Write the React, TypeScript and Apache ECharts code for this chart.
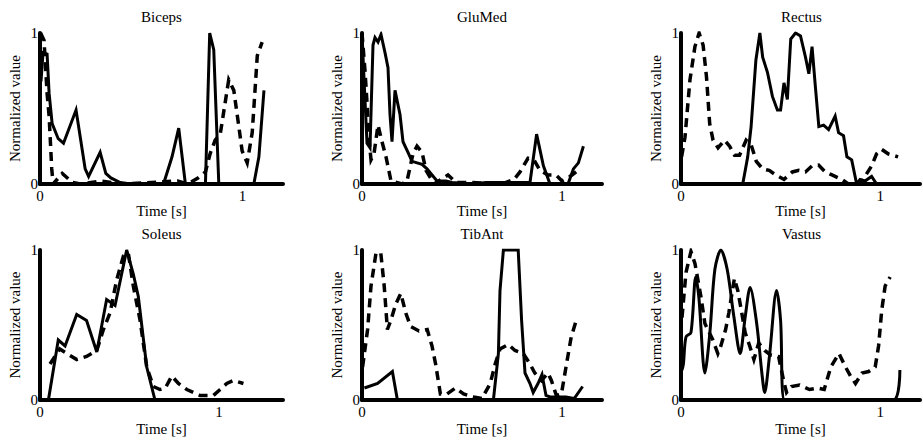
import React, { useEffect, useRef } from "react";
import * as echarts from "echarts";

// ---- data: [time (s), normalized value] ----
const panelTitles = ["Biceps", "GluMed", "Rectus", "Soleus", "TibAnt", "Vastus"];
const xTickLabels = ["0", "1"];
const yTickLabels = ["0", "1"];
const xMaxes = [1.2, 1.2, 1.2, 1.357, 1.2, 1.2];

const bicepsSolid = [[0.005,0.68],[0.015,0.87],[0.035,0.86],[0.045,0.6],[0.06,0.4],[0.09,0.3],[0.116,0.27],[0.178,0.49],[0.2,0.3],[0.223,0.1],[0.24,0.05],[0.297,0.21],[0.325,0.07],[0.35,0.04],[0.396,0.01],[0.45,0.0],[0.61,0.0],[0.652,0.18],[0.685,0.37],[0.718,0.0],[0.817,0.0],[0.838,1.0],[0.858,0.89],[0.883,0.0],[1.056,0.0],[1.081,0.18],[1.106,0.62]];
const bicepsDashed = [[0.003,1.0],[0.02,0.95],[0.035,0.6],[0.045,0.45],[0.058,0.1],[0.065,0.0],[0.11,0.07],[0.16,0.01],[0.2,0.0],[0.3,0.02],[0.4,0.0],[0.55,0.01],[0.68,0.02],[0.73,0.0],[0.78,0.04],[0.817,0.08],[0.84,0.2],[0.865,0.29],[0.89,0.33],[0.932,0.69],[0.957,0.62],[0.982,0.38],[0.998,0.22],[1.023,0.14],[1.048,0.34],[1.073,0.85],[1.097,0.94]];

const glumedSolid = [[0.0,1.0],[0.01,0.7],[0.025,0.27],[0.04,0.24],[0.055,0.92],[0.065,0.97],[0.08,0.94],[0.095,0.99],[0.115,0.87],[0.13,0.77],[0.14,0.46],[0.15,0.28],[0.165,0.62],[0.19,0.46],[0.205,0.28],[0.23,0.21],[0.25,0.15],[0.3,0.13],[0.325,0.1],[0.375,0.02],[0.42,0.02],[0.45,0.01],[0.55,0.0],[0.62,0.01],[0.84,0.01],[0.873,0.33],[0.907,0.12],[0.94,0.0],[1.03,0.0],[1.057,0.1],[1.082,0.14],[1.107,0.25]];
const glumedDashed = [[0.0,1.0],[0.015,0.75],[0.025,0.54],[0.035,0.3],[0.045,0.16],[0.06,0.2],[0.08,0.39],[0.1,0.28],[0.12,0.18],[0.145,0.02],[0.2,0.0],[0.225,0.02],[0.255,0.2],[0.275,0.25],[0.3,0.21],[0.32,0.09],[0.36,0.0],[0.43,0.06],[0.47,0.01],[0.55,0.01],[0.7,0.0],[0.76,0.03],[0.79,0.08],[0.83,0.17],[0.86,0.16],[0.89,0.09],[0.93,0.06],[0.97,0.06],[1.0,0.02],[1.04,0.05],[1.09,0.1]];

const rectusSolid = [[0.0,0.0],[0.31,0.0],[0.335,0.18],[0.352,0.38],[0.376,0.82],[0.396,1.0],[0.41,0.84],[0.434,0.74],[0.459,0.58],[0.484,0.49],[0.5,0.49],[0.517,0.67],[0.534,0.56],[0.551,0.96],[0.575,1.0],[0.6,0.98],[0.625,0.84],[0.642,0.73],[0.658,0.91],[0.675,0.64],[0.692,0.38],[0.716,0.39],[0.741,0.36],[0.774,0.45],[0.791,0.34],[0.816,0.32],[0.833,0.18],[0.857,0.16],[0.882,0.0],[0.899,0.03],[0.924,0.02],[0.957,0.05],[0.982,0.0]];
const rectusDashed = [[0.003,0.18],[0.02,0.31],[0.045,0.69],[0.07,0.91],[0.091,1.0],[0.111,0.92],[0.128,0.71],[0.144,0.4],[0.161,0.29],[0.186,0.24],[0.219,0.29],[0.244,0.25],[0.269,0.19],[0.294,0.19],[0.327,0.29],[0.352,0.26],[0.378,0.15],[0.41,0.1],[0.443,0.09],[0.476,0.06],[0.517,0.03],[0.559,0.08],[0.592,0.09],[0.625,0.08],[0.658,0.12],[0.691,0.125],[0.724,0.08],[0.758,0.06],[0.808,0.03],[0.84,0.0],[0.9,0.0],[0.957,0.12],[0.982,0.2],[1.007,0.23],[1.04,0.2],[1.09,0.18]];

const soleusSolid = [[0.0,0.0],[0.047,0.0],[0.102,0.4],[0.14,0.36],[0.205,0.57],[0.26,0.53],[0.317,0.32],[0.372,0.67],[0.419,0.63],[0.484,1.0],[0.521,0.84],[0.549,0.69],[0.596,0.22],[0.642,0.0]];
const soleusDashed = [[0.056,0.24],[0.11,0.34],[0.15,0.31],[0.205,0.27],[0.26,0.29],[0.317,0.33],[0.354,0.47],[0.391,0.58],[0.428,0.8],[0.466,0.96],[0.493,0.98],[0.521,0.76],[0.559,0.53],[0.596,0.22],[0.633,0.09],[0.67,0.07],[0.7,0.08],[0.736,0.16],[0.773,0.11],[0.82,0.07],[0.894,0.03],[0.968,0.03],[1.006,0.07],[1.043,0.11],[1.08,0.13],[1.136,0.11]];

const tibantSolid = [[0.012,0.08],[0.078,0.11],[0.152,0.19],[0.177,0.0],[0.4,0.0],[0.657,0.0],[0.682,0.31],[0.69,0.73],[0.707,1.0],[0.781,1.0],[0.798,0.53],[0.815,0.18],[0.84,0.11],[0.856,0.05],[0.88,0.11],[0.9,0.17],[0.92,0.03],[0.94,0.02],[0.97,0.02],[1.02,0.02],[1.061,0.01],[1.103,0.09]];
const tibantDashed = [[0.003,0.22],[0.028,0.47],[0.045,0.76],[0.07,0.98],[0.094,0.98],[0.111,0.76],[0.127,0.47],[0.144,0.53],[0.169,0.64],[0.194,0.71],[0.219,0.58],[0.243,0.49],[0.285,0.46],[0.326,0.47],[0.35,0.36],[0.368,0.24],[0.392,0.04],[0.425,0.04],[0.467,0.08],[0.508,0.04],[0.558,0.02],[0.6,0.01],[0.641,0.11],[0.666,0.24],[0.69,0.34],[0.732,0.37],[0.765,0.33],[0.806,0.31],[0.84,0.24],[0.864,0.18],[0.897,0.13],[0.93,0.18],[0.947,0.13],[0.972,0.03],[0.997,0.04],[1.02,0.22],[1.046,0.42],[1.071,0.53]];

const vastusSolid = [[0.005,0.2],[0.012,0.24],[0.025,0.42],[0.05,0.45],[0.074,0.82],[0.09,0.68],[0.12,0.18],[0.145,0.45],[0.17,0.87],[0.2,1.0],[0.232,0.87],[0.265,0.56],[0.297,0.31],[0.322,0.55],[0.347,0.75],[0.38,0.51],[0.406,0.18],[0.42,0.05],[0.444,0.29],[0.48,0.73],[0.5,0.53],[0.52,0.0],[1.066,0.0],[1.099,0.2]];
const vastusDashed = [[0.005,0.55],[0.025,0.85],[0.05,0.99],[0.07,0.91],[0.1,0.69],[0.12,0.51],[0.16,0.4],[0.185,0.31],[0.2,0.36],[0.224,0.47],[0.24,0.58],[0.268,0.81],[0.285,0.73],[0.3,0.62],[0.322,0.45],[0.345,0.36],[0.366,0.27],[0.39,0.38],[0.42,0.33],[0.45,0.3],[0.49,0.29],[0.515,0.13],[0.53,0.05],[0.554,0.09],[0.595,0.1],[0.645,0.07],[0.686,0.08],[0.719,0.07],[0.752,0.22],[0.793,0.31],[0.826,0.22],[0.851,0.16],[0.876,0.11],[0.909,0.18],[0.942,0.19],[0.975,0.22],[0.992,0.36],[1.008,0.6],[1.025,0.76],[1.05,0.82]];

const solidSeries = [bicepsSolid, glumedSolid, rectusSolid, soleusSolid, tibantSolid, vastusSolid];
const dashedSeries = [bicepsDashed, glumedDashed, rectusDashed, soleusDashed, tibantDashed, vastusDashed];

// ---- layout ----
const W = 923;
const H = 441;
const FONT = "Liberation Serif";
const colLeft = [40, 362, 681];
const colWidth = [243, 240, 241];
const rowTop = [33, 250];
const rowHeight = [151, 150];
const xNameGap = [17, 21];

export default function App() {
  const ref = useRef<HTMLDivElement>(null);

  useEffect(() => {
    if (!ref.current) return;
    const chart = echarts.init(ref.current, null, { renderer: "svg" });

    const grids: any[] = [];
    const xAxes: any[] = [];
    const yAxes: any[] = [];
    const series: any[] = [];
    const graphics: any[] = [];

    panelTitles.forEach((title, i) => {
      const r = Math.floor(i / 3);
      const c = i % 3;
      const left = colLeft[c];
      const top = rowTop[r];
      const width = colWidth[c];
      const height = rowHeight[r];
      grids.push({ left, top, width, height, containLabel: false });

      const axisLine = { show: true, onZero: false, lineStyle: { color: "#000", width: 4 } };
      const labelStyle = { color: "#000", fontFamily: FONT, fontSize: 15, fontWeight: "normal" };

      xAxes.push({
        type: "value",
        gridIndex: i,
        min: 0,
        max: xMaxes[i],
        interval: 1,
        axisLine,
        axisTick: { show: false },
        splitLine: { show: false },
        axisLabel: {
          ...labelStyle,
          margin: 4,
          formatter: (v: number) => {
            const s = String(Math.round(v * 1000) / 1000);
            return xTickLabels.includes(s) ? s : "";
          },
        },
        name: "Time [s]",
        nameLocation: "middle",
        nameGap: xNameGap[r],
        nameTextStyle: { ...labelStyle },
      });
      yAxes.push({
        type: "value",
        gridIndex: i,
        min: 0,
        max: 1,
        interval: 1,
        axisLine,
        axisTick: { show: false },
        splitLine: { show: false },
        axisLabel: {
          ...labelStyle,
          margin: 2,
          formatter: (v: number) => {
            const s = String(v);
            return yTickLabels.includes(s) ? s : "";
          },
        },
        name: "Normalized value",
        nameLocation: "middle",
        nameRotate: 90,
        nameGap: 18,
        nameTextStyle: { ...labelStyle },
      });

      series.push({
        type: "line",
        xAxisIndex: i,
        yAxisIndex: i,
        data: solidSeries[i],
        showSymbol: false,
        smooth: i === 5 ? 0.3 : false,
        lineStyle: { color: "#000", width: 3, type: "solid", cap: "butt", join: "miter" },
        z: 3,
      });
      series.push({
        type: "line",
        xAxisIndex: i,
        yAxisIndex: i,
        data: dashedSeries[i],
        showSymbol: false,
        lineStyle: { color: "#000", width: 3.5, type: [9, 6], cap: "butt", join: "miter" },
        z: 3,
      });

      graphics.push({
        type: "text",
        x: left + width / 2,
        y: top - 16,
        style: {
          text: title,
          fill: "#000",
          fontFamily: FONT,
          fontSize: 15,
          fontWeight: "normal",
          align: "center",
          verticalAlign: "middle",
        },
      });
    });

    chart.setOption({
      animation: false,
      backgroundColor: "#fff",
      textStyle: { fontFamily: FONT },
      grid: grids,
      xAxis: xAxes,
      yAxis: yAxes,
      series,
      graphic: graphics,
    });

    return () => chart.dispose();
  }, []);

  return (
    <div
      ref={ref}
      style={{ position: "fixed", left: 0, top: 0, width: W, height: H, background: "#fff" }}
    />
  );
}
